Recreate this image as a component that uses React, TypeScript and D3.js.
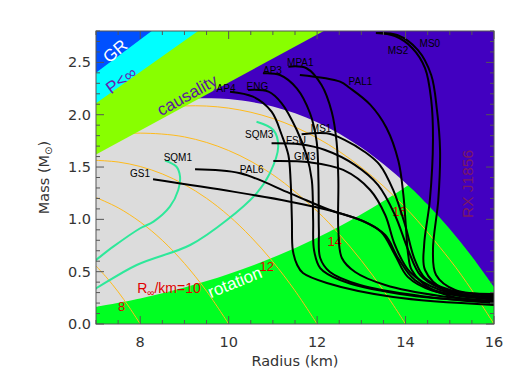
import React from 'react';
import * as d3 from 'd3';

// radius in km, mass in solar masses
const AP4 = [[10.03, 2.22], [10.55, 2.172], [10.97, 2.029], [11.2, 1.806], [11.35, 1.615], [11.4, 1.376], [11.43, 0.994], [11.45, 0.707], [11.55, 0.564], [11.68, 0.487], [12.22, 0.392], [13.72, 0.258], [16.0, 0.182]];
const ENG = [[10.44, 2.236], [10.9, 2.22], [11.2, 2.109], [11.54, 1.854], [11.76, 1.615], [11.88, 1.376], [11.91, 0.994], [11.93, 0.707], [12.07, 0.535], [12.52, 0.42], [13.87, 0.287], [16.0, 0.21]];
const AP3 = [[10.78, 2.396], [11.16, 2.38], [11.54, 2.252], [11.84, 2.014], [11.99, 1.742], [12.03, 1.376], [12.04, 0.898], [12.07, 0.631], [12.29, 0.497], [12.97, 0.373], [14.33, 0.268], [16.0, 0.201]];
const MPA1 = [[11.35, 2.459], [11.76, 2.444], [12.1, 2.284], [12.33, 2.029], [12.44, 1.742], [12.48, 1.376], [12.48, 0.898], [12.56, 0.631], [12.86, 0.497], [13.54, 0.373], [14.78, 0.268], [16.0, 0.22]];
const PAL1 = [[11.61, 2.38], [12.52, 2.316], [12.74, 2.255], [13.2, 2.096], [13.57, 1.873], [13.84, 1.555], [13.95, 1.236], [14.01, 0.917], [14.06, 0.66], [14.14, 0.516], [14.55, 0.344], [15.23, 0.268], [16.0, 0.239]];
const MS2 = [[13.33, 2.781], [13.76, 2.752], [14.15, 2.638], [14.44, 2.446], [14.58, 2.141], [14.62, 1.758], [14.55, 1.185], [14.42, 0.755], [14.44, 0.516], [14.89, 0.325], [16.0, 0.258]];
const MS0 = [[13.33, 2.781], [13.81, 2.762], [14.28, 2.618], [14.58, 2.38], [14.71, 2.045], [14.78, 1.663], [14.74, 1.185], [14.62, 0.707], [14.69, 0.468], [15.12, 0.325], [16.0, 0.287]];
const MS1 = [[11.65, 1.813], [12.22, 1.822], [12.63, 1.758], [13.08, 1.644], [13.42, 1.519], [13.72, 1.281], [13.99, 0.946], [14.21, 0.612], [14.44, 0.44], [15.01, 0.325], [16.0, 0.268]];
const FSU = [[10.97, 1.727], [11.61, 1.717], [12.18, 1.663], [12.86, 1.519], [13.38, 1.328], [13.76, 1.042], [14.06, 0.707], [14.33, 0.468], [14.78, 0.344], [16.0, 0.229]];
const GM3 = [[11.01, 1.558], [11.84, 1.545], [12.59, 1.472], [13.2, 1.281], [13.54, 1.042], [13.76, 0.755], [14.1, 0.497], [14.78, 0.325], [16.0, 0.248]];
const PAL6 = [[9.24, 1.478], [10.26, 1.44], [11.39, 1.249], [12.29, 1.089], [13.08, 0.975], [13.54, 0.85], [13.83, 0.631], [14.21, 0.42], [15.0, 0.268], [16.0, 0.22]];
const GS1 = [[8.29, 1.383], [10.1, 1.265], [11.39, 1.169], [12.29, 1.085], [13.0, 0.99], [13.45, 0.88], [13.75, 0.67], [14.05, 0.45], [14.6, 0.32], [16.0, 0.25]];
const SQM1 = [[8.56, 1.561], [8.82, 1.503], [8.9, 1.408], [8.86, 1.281], [8.67, 1.121], [8.3, 0.978], [8.0, 0.915], [7.39, 0.739], [7.0, 0.612], [6.9, 0.58]];
const SQM3 = [[10.63, 1.933], [11.01, 1.854], [11.12, 1.694], [10.93, 1.44], [10.63, 1.249], [9.96, 0.994], [9.13, 0.755], [7.92, 0.564], [7.0, 0.341], [6.9, 0.32]];

// label anchors (R, M)
const eosNames = ['AP4', 'ENG', 'AP3', 'MPA1', 'PAL1', 'MS2', 'MS0', 'MS1', 'FSU', 'GM3', 'PAL6', 'GS1', 'SQM1', 'SQM3'];
const eosLabelAt = [[9.94, 2.254], [10.65, 2.268], [10.99, 2.427], [11.62, 2.497], [12.98, 2.313], [13.83, 2.609], [14.55, 2.685], [12.09, 1.87], [11.52, 1.749], [11.72, 1.605], [10.52, 1.477], [7.995, 1.44], [8.85, 1.589], [10.69, 1.813]];
const eosCurves = [AP4, ENG, AP3, MPA1, PAL1, MS2, MS0, MS1, FSU, GM3, PAL6, GS1];
const sqmCurves = [SQM1, SQM3];

// constant R_infinity contours
const rinf8 = [[7, 0.555], [7.25, 0.439], [7.5, 0.308], [7.75, 0.161], [8, 0]];
const rinf10 = [[7, 1.209], [7.5, 1.111], [8, 0.975], [8.5, 0.799], [9, 0.579], [9.5, 0.314], [10, 0]];
const rinf12 = [[7, 1.564], [7.5, 1.548], [8, 1.505], [8.5, 1.434], [9, 1.333], [9.5, 1.201], [10, 1.035], [10.5, 0.833], [11, 0.595], [11.5, 0.318], [12, 0]];
const rinf14 = [[7, 1.778], [7.5, 1.811], [8, 1.824], [9, 1.788], [10, 1.658], [11, 1.426], [12, 1.078], [12.5, 0.858], [13, 0.607], [13.5, 0.321], [14, 0]];
const rinf16 = [[7, 1.917], [8, 2.032], [9, 2.084], [10, 2.063], [11, 1.964], [12, 1.778], [13, 1.496], [14, 1.111], [15, 0.615], [15.5, 0.323], [16, 0]];
const rinfCurves = [rinf8, rinf10, rinf12, rinf14, rinf16];
const rinfNames = ['8', '12', '14', '16'];
const rinfLabelAt = [[7.58, 0.165], [10.86, 0.548], [12.4, 0.787], [13.86, 1.073]];

// excluded / allowed regions
const grEdge = [[7, 2.4], [8.26, 2.8]];
const buchdahlEdge = [[7, 2.11], [9.31, 2.8]];
const causalEdge = [[7, 1.62], [12.15, 2.8]];
const rotationEdge = [[7, 0.164], [8, 0.244], [9, 0.348], [10, 0.477], [11, 0.635], [12, 0.824], [13, 1.048], [14, 1.309], [15, 1.61], [16, 1.953]];
const rxEdge = [[9.0, 2.15], [9.3, 2.155], [10, 2.15], [11, 2.079], [12, 1.928], [13, 1.686], [14, 1.348], [14.5, 1.141], [15, 0.907], [15.5, 0.645], [16, 0.354]];

const xTickLabels = [8, 10, 12, 14, 16];
const yTickLabels = [0, 0.5, 1.0, 1.5, 2.0, 2.5];

export default function App() {
    const width = 524;
    const height = 386;
    const left = 96, right = 494, top = 31, bottom = 324;

    const x = d3.scaleLinear().domain([7, 16]).range([left, right]);
    const y = d3.scaleLinear().domain([0, 2.8]).range([bottom, top]);

    const smooth = d3.line<number[]>()
        .x(d => x(d[0]))
        .y(d => y(d[1]))
        .curve(d3.curveCatmullRom.alpha(0.5));
    const straight = d3.line<number[]>()
        .x(d => x(d[0]))
        .y(d => y(d[1]));

    // edge + closing corners
    function region(edge, corners, curved) {
        const path = curved ? smooth(edge) : straight(edge);
        return path + corners.map(p => 'L' + x(p[0]) + ',' + y(p[1])).join('') + 'Z';
    }

    const xMinor = d3.range(7, 16.001, 0.5);
    const yMinor = d3.range(0, 2.801, 0.1);
    const axisFont = "'DejaVu Sans', sans-serif";
    const labelFont = "'Liberation Sans', Arial, sans-serif";
    const tickColor = '#555';

    return (
        <svg width={width} height={height} style={{ position: 'absolute', left: 0, top: 0 }}>
            <defs>
                <clipPath id="plot-clip">
                    <rect x={left} y={top} width={right - left} height={bottom - top} />
                </clipPath>
            </defs>
            <rect x={0} y={0} width={width} height={height} fill="#fff" />

            <g clipPath="url(#plot-clip)">
                <rect x={left} y={top} width={right - left} height={bottom - top} fill="#dcdcdc" />
                {/* rotation */}
                <path d={region(rotationEdge, [[16, 0], [7, 0]], true)} fill="#00ff22" />
                {/* R_inf contours */}
                {rinfCurves.map((c, i) => (
                    <path key={'r' + i} d={smooth(c)} fill="none" stroke="#ffbb1c" strokeWidth={1} />
                ))}
                {/* RX J1856 */}
                <path d={region(rxEdge, [[16, 3], [9, 3]], true)} fill="#4200c0" />
                {/* causality, P<inf, GR */}
                <path d={region(causalEdge, [[7, 3]], false)} fill="#88ff00" />
                <path d={region(buchdahlEdge, [[7, 3]], false)} fill="#00ffff" />
                <path d={region(grEdge, [[7, 3]], false)} fill="#0050ff" />

                {/* region labels */}
                <text transform={`translate(${x(7.43)},${y(2.609)}) rotate(-40)`} textAnchor="middle" dy="0.35em"
                    fontFamily={labelFont} fontSize={17} fill="#fff">GR</text>
                <text transform={`translate(${x(7.57)},${y(2.332)}) rotate(-35)`} textAnchor="middle" dy="0.35em"
                    fontFamily={labelFont} fontSize={17} fill="#6a1ab0">P&lt;∞</text>
                <text transform={`translate(${x(9.06)},${y(2.188)}) rotate(-29)`} textAnchor="middle" dy="0.35em"
                    fontFamily={labelFont} fontSize={17} fill="#5a1a9a">causality</text>
                <text transform={`translate(${x(10.14)},${y(0.401)}) rotate(-22)`} textAnchor="middle" dy="0.35em"
                    fontFamily={labelFont} fontSize={17} fill="#fff">rotation</text>
                <text transform={`translate(${x(15.41)},${y(1.338)}) rotate(-90)`} textAnchor="middle" dy="0.35em"
                    fontFamily={labelFont} fontSize={15.5} fill="#7a1a66">RX J1856</text>

                {/* R_inf labels */}
                {rinfNames.map((n, i) => (
                    <text key={'rl' + i} x={x(rinfLabelAt[i][0])} y={y(rinfLabelAt[i][1])} dy="0.35em" textAnchor="middle"
                        fontFamily={labelFont} fontSize={13} fill="#e00000">{n}</text>
                ))}
                <text x={x(8.65)} y={y(0.344)} dy="0.35em" textAnchor="middle" fontFamily={labelFont} fontSize={14} fill="#e00000">
                    R<tspan fontSize={10} dy={3}>∞</tspan><tspan dy={-3}>/km=10</tspan>
                </text>

                {/* strange quark matter */}
                {sqmCurves.map((c, i) => (
                    <path key={'s' + i} d={smooth(c)} fill="none" stroke="#2ee89a" strokeWidth={2} />
                ))}
                {/* EOS curves */}
                {eosCurves.map((c, i) => (
                    <path key={'e' + i} d={smooth(c)} fill="none" stroke="#000" strokeWidth={2} strokeLinejoin="round" />
                ))}
                {eosNames.map((n, i) => (
                    <text key={'el' + i} x={x(eosLabelAt[i][0])} y={y(eosLabelAt[i][1])} dy="0.35em" textAnchor="middle"
                        fontFamily={labelFont} fontSize={10} fill="#000">{n}</text>
                ))}
            </g>

            {/* frame and ticks */}
            <rect x={left} y={top} width={right - left} height={bottom - top} fill="none" stroke={tickColor} strokeWidth={1} />
            {xMinor.map((v, i) => {
                const major = xTickLabels.indexOf(Math.round(v * 10) / 10) >= 0;
                const len = major ? 8 : 4;
                return (
                    <g key={'xt' + i} stroke={tickColor}>
                        <line x1={x(v)} x2={x(v)} y1={bottom} y2={bottom - len} />
                        <line x1={x(v)} x2={x(v)} y1={top} y2={top + len} />
                    </g>
                );
            })}
            {yMinor.map((v, i) => {
                const major = yTickLabels.some(t => Math.abs(t - v) < 1e-6);
                const len = major ? 8 : 4;
                return (
                    <g key={'yt' + i} stroke={tickColor}>
                        <line x1={left} x2={left + len} y1={y(v)} y2={y(v)} />
                        <line x1={right} x2={right - len} y1={y(v)} y2={y(v)} />
                    </g>
                );
            })}
            {xTickLabels.map(v => (
                <text key={'xl' + v} x={x(v)} y={bottom + 23} textAnchor="middle" fontFamily={axisFont} fontSize={14.5} fill="#333">{v}</text>
            ))}
            {yTickLabels.map(v => (
                <text key={'yl' + v} x={left - 5} y={y(v) + 5} textAnchor="end" fontFamily={axisFont} fontSize={14.5} fill="#333">{v.toFixed(1)}</text>
            ))}
            <text x={(left + right) / 2} y={366} textAnchor="middle" fontFamily={axisFont} fontSize={14.5} fill="#333">Radius (km)</text>
            <text transform={`translate(49,${(top + bottom) / 2}) rotate(-90)`} textAnchor="middle" fontFamily={axisFont} fontSize={14.5} fill="#333">
                Mass (M<tspan fontSize={10} dy={3}>⊙</tspan><tspan dy={-3}>)</tspan>
            </text>
        </svg>
    );
}
